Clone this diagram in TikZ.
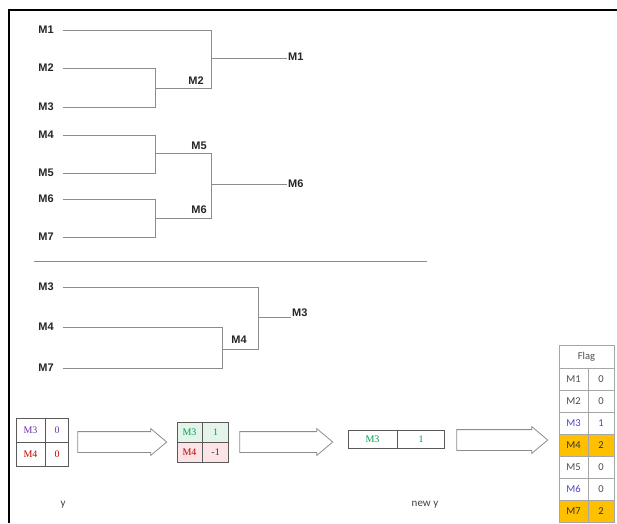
\documentclass[tikz,border=0pt]{standalone}
\usepackage{fontspec}
\setsansfont{Liberation Sans}
\newfontfamily\tabfont{Liberation Serif}
\newfontfamily\flagfont{Carlito}
\usetikzlibrary{shapes.arrows,positioning}
\definecolor{linegray}{HTML}{8C8C8C}
\definecolor{mpurple}{HTML}{7030A0}
\definecolor{mred}{HTML}{C00000}
\definecolor{mgreen}{HTML}{00A050}
\definecolor{palegreen}{HTML}{E4F4E8}
\definecolor{palepink}{HTML}{FBE3E6}
\definecolor{flagorange}{HTML}{FFC000}
\definecolor{flagblue}{HTML}{4A4AC0}

\begin{document}
\begin{tikzpicture}[x=1pt, y=-1pt,
  lbl/.style={font=\sffamily\bfseries\fontsize{11}{12}\selectfont, text=black!85, inner sep=1pt},
  br/.style={draw=linegray, line width=0.9pt},
  cell/.style={draw=black!65, line width=0.6pt, inner sep=0pt, font=\tabfont\fontsize{10}{12}\selectfont},
  fcell/.style={draw=black!35, line width=0.5pt, minimum height=22pt, inner sep=0pt, font=\flagfont\fontsize{10.5}{12}\selectfont},
  barrow/.style={single arrow, draw=linegray, line width=0.8pt, inner xsep=0pt, inner ysep=10pt, single arrow head extend=3pt, single arrow tip angle=80},
  captext/.style={font=\flagfont\fontsize{11}{13}\selectfont, text=black!75}
]
\useasboundingbox (0,0) rectangle (617,523);
% frame
\draw[line width=2pt] (617,10) -- (9,10) -- (9,523);

% upper tree
\node[lbl] (a1) at (46,30) {M1};
\node[lbl] (a2) at (46,68) {M2};
\node[lbl] (a3) at (46,107) {M3};
\node[lbl] (a4) at (46,135) {M4};
\node[lbl] (a5) at (46,173) {M5};
\node[lbl] (a6) at (46,199) {M6};
\node[lbl] (a7) at (46,237) {M7};
\coordinate (j23) at (155,88);
\coordinate (j45) at (155,153);
\coordinate (j67) at (155,218);
\coordinate (k1) at (211,58);
\coordinate (k2) at (211,184);
\node[lbl] (m2) at (196,81) {M2};
\node[lbl] (m5) at (199,146) {M5};
\node[lbl] (m6) at (199,210) {M6};
\node[lbl, anchor=west] (r1) at (287,57) {M1};
\node[lbl, anchor=west] (r2) at (287,184) {M6};
\draw[br] ([xshift=8pt]a1.east) -| (k1);
\draw[br] ([xshift=8pt]a2.east) -| (j23);
\draw[br] ([xshift=8pt]a3.east) -| (j23);
\draw[br] (j23) -| (k1);
\draw[br] (k1) -- (k1 -| r1.west);
\draw[br] ([xshift=8pt]a4.east) -| (j45);
\draw[br] ([xshift=8pt]a5.east) -| (j45);
\draw[br] ([xshift=8pt]a6.east) -| (j67);
\draw[br] ([xshift=8pt]a7.east) -| (j67);
\draw[br] (j45) -| (k2);
\draw[br] (j67) -| (k2);
\draw[br] (k2) -- (k2 -| r2.west);

% separator
\coordinate (s1) at (34,261);
\coordinate (s2) at (427,261);
\draw[br] (s1) -- (s2);

% lower tree
\node[lbl] (b3) at (46,287) {M3};
\node[lbl] (b4) at (46,327) {M4};
\node[lbl] (b7) at (46,368) {M7};
\coordinate (j47) at (222,349);
\coordinate (k3) at (258,317);
\node[lbl] (m4) at (239,340) {M4};
\node[lbl, anchor=west] (r3) at (291,313) {M3};
\draw[br] ([xshift=8pt]b3.east) -| (k3);
\draw[br] ([xshift=8pt]b4.east) -| (j47);
\draw[br] ([xshift=8pt]b7.east) -| (j47);
\draw[br] (j47) -| (k3);
\draw[br] (k3) -- (k3 -| r3.west);

% y
\node[cell, minimum width=29pt, minimum height=24pt, text=mpurple] (y1n) at (30.5,430) {M3};
\node[cell, minimum width=23pt, minimum height=24pt, text=mpurple, right=0pt of y1n] (y1v) {0};
\node[cell, minimum width=29pt, minimum height=24pt, text=mred, below=0pt of y1n] (y2n) {M4};
\node[cell, minimum width=23pt, minimum height=24pt, text=mred, right=0pt of y2n] (y2v) {0};
\node[barrow, minimum height=89pt] (ar1) at (116,442) {};

% intermediate y
\node[cell, minimum width=25pt, minimum height=20pt, fill=palegreen, text=mgreen] (z1n) at (189.5,432) {M3};
\node[cell, minimum width=26pt, minimum height=20pt, fill=palegreen, text=mgreen, right=0pt of z1n] (z1v) {1};
\node[cell, minimum width=25pt, minimum height=20pt, fill=palepink, text=mred, below=0pt of z1n] (z2n) {M4};
\node[cell, minimum width=26pt, minimum height=20pt, fill=palepink, text=black!80, right=0pt of z2n] (z2v) {-1};
\node[barrow, minimum height=93pt] (ar2) at (280,442) {};

% new y
\node[cell, minimum width=49pt, minimum height=18pt, text=mgreen] (n1n) at (372.5,439.5) {M3};
\node[cell, minimum width=47pt, minimum height=18pt, text=mgreen, right=0pt of n1n] (n1v) {1};
\node[barrow, minimum height=91pt] (ar3) at (496,440) {};

\node[captext] (ty) at (63,505) {y};
\node[captext] (tny) at (425,505) {new y};

% flag table
\node[fcell, minimum width=55pt, minimum height=23pt, text=black!70] (fh) at (586.5,356.5) {Flag};
\foreach \n/\v/\fc/\nc/\vc [count=\i] in {M1/0/white/black!70/black!70,
    M2/0/white/black!70/black!70, M3/1/white/flagblue/flagblue,
    M4/2/flagorange/black!80/black!80, M5/0/white/black!70/black!70,
    M6/0/white/flagblue/black!70, M7/2/flagorange/black!80/black!80} {
  \node[fcell, minimum width=29pt, fill=\fc, text=\nc] (fn\i) at (573.5,357+22*\i) {\n};
  \node[fcell, minimum width=26pt, fill=\fc, text=\vc] (fv\i) at (601,357+22*\i) {\v};
}
\end{tikzpicture}
\end{document}
